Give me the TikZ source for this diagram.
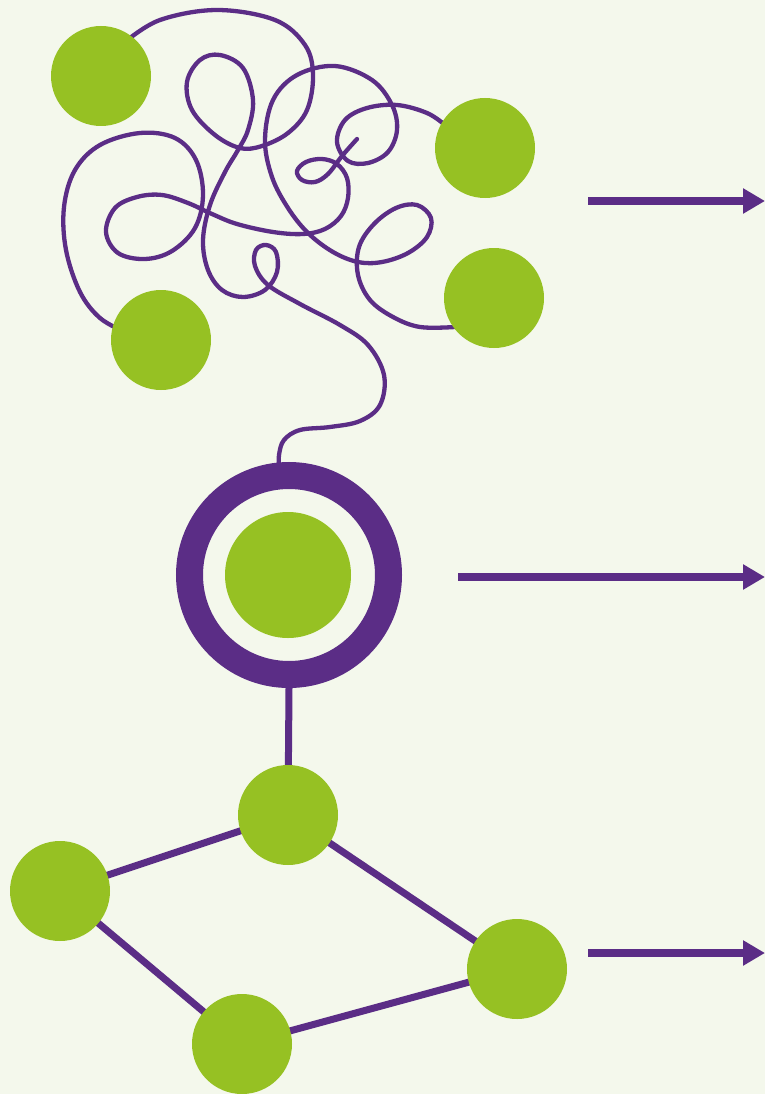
\documentclass[tikz,border=0pt]{standalone}
\usetikzlibrary{arrows.meta,backgrounds}
\definecolor{bg}{HTML}{F4F8EC}
\definecolor{lime}{HTML}{96C123}
\definecolor{violet}{HTML}{5B2D86}
\begin{document}
\begin{tikzpicture}[x=1pt,y=-1pt,
  dot/.style={circle,fill=lime,draw=none,minimum size=100pt,inner sep=0pt},
  thread/.style={draw=violet,line width=4.3pt,line cap=round,line join=round},
  link/.style={draw=violet,line width=7pt},
  goarrow/.style={draw=violet,line width=7.5pt,-{Triangle[length=22pt,width=24pt]}}]
\useasboundingbox (0,0) rectangle (765,1094);
% tangle threads (drawn first, under the dots)
\draw[thread] plot[smooth,tension=0.6] coordinates {
 (125,42) (160,20) (217,10) (275,20) (305,45) (313,75) (307,110) (288,133) (262,146) (240,148)
 (215,135) (192,110) (187,82) (200,60) (220,55) (243,68) (253,100) (248,130) (238,150)
 (225,172) (210,205) (203,240) (208,270) (222,290) (243,297) (265,290) (277,272) (276,252) (266,245) (256,250) (255,266) (268,285)
 (300,304) (340,325) (368,345) (384,375) (380,405) (360,421) (330,427) (300,430) (284,440) (279,455) (279,468)};
\draw[thread] plot[smooth,tension=0.6] coordinates {
 (125,332) (100,318) (80,292) (66,250) (64,207) (75,170) (100,145) (140,133) (175,138) (196,160) (203,195)
 (195,228) (172,251) (145,259) (118,253) (106,232) (115,208) (137,197) (162,195) (188,203) (212,214) (237,224)
 (273,232) (303,234) (325,229) (341,216) (348,198) (347,178) (337,164) (322,159) (306,162) (297,171) (302,180) (315,182)
 (328,174) (342,156) (357,139)};
\draw[thread] plot[smooth,tension=0.6] coordinates {
 (445,125) (427,113) (397,105) (367,108) (345,120) (337,142) (348,161) (368,163) (388,152) (397,130) (392,105)
 (372,80) (335,66) (297,75) (273,100) (265,140) (272,177) (288,208) (308,233) (333,252) (358,262) (382,262)
 (408,253) (427,237) (431,218) (417,205) (396,208) (374,224) (359,247) (358,275) (370,300) (393,317) (420,327) (455,327)};
% dots of the tangle
\node[dot] (t1) at (101,76) {};
\node[dot] (t2) at (485,148) {};
\node[dot] (t3) at (494,298) {};
\node[dot] (t4) at (161,340) {};
% ring
\node[circle,draw=violet,line width=27pt,fill=bg,minimum size=199pt,inner sep=0pt] (ring) at (289,575) {};
\node[circle,fill=lime,minimum size=126pt,inner sep=0pt] (core) at (288,575) {};
% network
\node[dot] (a) at (288,815) {};
\node[dot] (b) at (60,891) {};
\node[dot] (c) at (517,969) {};
\node[dot] (d) at (242,1044) {};
\begin{pgfonlayer}{background}
\fill[bg] (0,0) rectangle (765,1094);
\draw[link] (ring.south) -- (a.center);
\draw[link] (a.center) -- (b.center);
\draw[link] (a.center) -- (c.center);
\draw[link] (b.center) -- (d.center);
\draw[link] (d.center) -- (c.center);
\end{pgfonlayer}
% arrows
\coordinate (s1) at (588,201); \coordinate (e1) at (765,201);
\coordinate (s2) at (458,577); \coordinate (e2) at (765,577);
\coordinate (s3) at (588,953); \coordinate (e3) at (765,953);
\draw[goarrow] (s1) -- (e1);
\draw[goarrow] (s2) -- (e2);
\draw[goarrow] (s3) -- (e3);
\end{tikzpicture}
\end{document}
